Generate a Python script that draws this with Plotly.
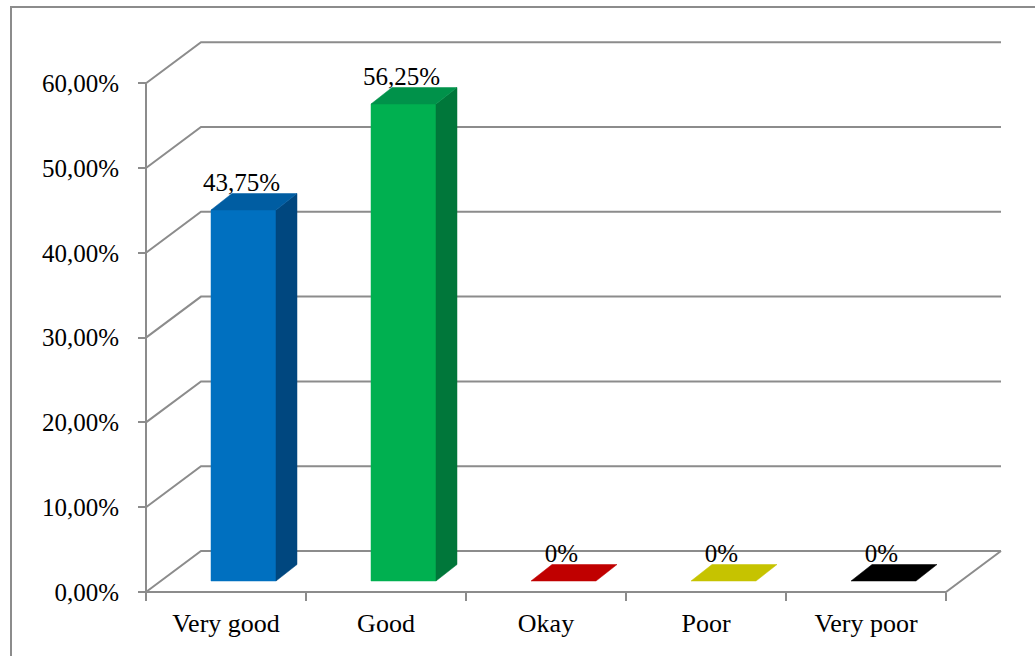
import plotly.graph_objects as go

# ---- data ----
categories = ["Very good", "Good", "Okay", "Poor", "Very poor"]
values = [43.75, 56.25, 0, 0, 0]
value_labels = ["43,75%", "56,25%", "0%", "0%", "0%"]
y_ticks = [0, 10, 20, 30, 40, 50, 60]
y_tick_labels = ["0,00%", "10,00%", "20,00%", "30,00%", "40,00%", "50,00%", "60,00%"]
front_colors = ["#0070C0", "#00B050", "#C00000", "#C6C300", "#000000"]
top_colors = ["#005DA2", "#00924A", "#C00000", "#C6C300", "#000000"]
side_colors = ["#00477F", "#00773A", "#900000", "#959300", "#000000"]

# ---- geometry (pixel scale of the pseudo-3D projection) ----
W, H = 1035, 656
PX_X = 160.0      # px per category
PX_Y = 8.48       # px per percent
AX_LEFT_PX, AX_BOTTOM_PX = 146, 592
L, R, T, B = 140, 30, 37, 59
x_lo = -0.5 - (AX_LEFT_PX - L) / PX_X
x_hi = -0.5 + (W - R - AX_LEFT_PX) / PX_X
y_lo = -((H - B) - AX_BOTTOM_PX) / PX_Y
y_hi = (AX_BOTTOM_PX - T) / PX_Y

wall_dx, wall_dy = 55 / PX_X, 41 / PX_Y
bar_fdx, bar_fdy = 17.5 / PX_X, 11 / PX_Y
bar_half = 32.5 / PX_X
bar_ddx, bar_ddy = 21 / PX_X, 16.5 / PX_Y
n = len(categories)
GRID = "#8C8C8C"

fig = go.Figure()

# back wall gridlines + side wall diagonals
gx, gy = [], []
for v in y_ticks:
    gx += [-0.5, -0.5 + wall_dx, n - 0.5 + wall_dx, None]
    gy += [v, v + wall_dy, v + wall_dy, None]
# front floor edge + right diagonal
gx += [-0.5, n - 0.5, n - 0.5 + wall_dx, None]
gy += [0, 0, wall_dy, None]
# front vertical axis
gx += [-0.5, -0.5, None]
gy += [0, y_ticks[-1], None]
fig.add_trace(go.Scatter(x=gx, y=gy, mode="lines", line=dict(color=GRID, width=2),
                         hoverinfo="skip"))

# bars
for i, v in enumerate(values):
    x0 = i + bar_fdx - bar_half
    x1 = i + bar_fdx + bar_half
    yb = bar_fdy
    yt = bar_fdy + v
    if v > 0:
        fig.add_trace(go.Scatter(x=[x0, x1, x1, x0, x0], y=[yb, yb, yt, yt, yb],
                                 fill="toself", fillcolor=front_colors[i], mode="lines",
                                 line=dict(color=front_colors[i], width=0.5), hoverinfo="skip"))
        fig.add_trace(go.Scatter(x=[x1, x1 + bar_ddx, x1 + bar_ddx, x1, x1],
                                 y=[yb, yb + bar_ddy, yt + bar_ddy, yt, yb],
                                 fill="toself", fillcolor=side_colors[i], mode="lines",
                                 line=dict(color=side_colors[i], width=0.5), hoverinfo="skip"))
    fig.add_trace(go.Scatter(x=[x0, x1, x1 + bar_ddx, x0 + bar_ddx, x0],
                             y=[yt, yt, yt + bar_ddy, yt + bar_ddy, yt],
                             fill="toself", fillcolor=top_colors[i], mode="lines",
                             line=dict(color=top_colors[i], width=0.5), hoverinfo="skip"))

# value labels
fig.add_trace(go.Scatter(
    x=[i + bar_fdx - 2 / PX_X for i in range(n)],
    y=[v + bar_fdy + bar_ddy - 4 / PX_Y for v in values],
    mode="text", text=value_labels, textposition="top center",
    textfont=dict(family="Liberation Serif", size=25, color="black"),
    cliponaxis=False, hoverinfo="skip"))

plot_w = W - L - R
plot_h = H - T - B
fig.update_layout(
    width=W, height=H,
    margin=dict(l=L, r=R, t=T, b=B, pad=0),
    paper_bgcolor="white", plot_bgcolor="white",
    showlegend=False,
    font=dict(family="Liberation Serif", size=25, color="black"),
    xaxis=dict(range=[x_lo, x_hi], showgrid=False, zeroline=False, showline=False,
               tickvals=list(range(n)), ticktext=categories, ticks="",
               anchor="free", position=((H - B) - AX_BOTTOM_PX) / plot_h,
               minor=dict(tick0=-0.5, dtick=1, ticks="outside", ticklen=8,
                          tickwidth=2, tickcolor=GRID, showgrid=False),
               ticklabelstandoff=13,
               tickfont=dict(family="Liberation Serif", size=26, color="black")),
    yaxis=dict(range=[y_lo, y_hi], showgrid=False, zeroline=False, showline=False,
               tickvals=y_ticks, ticktext=y_tick_labels, ticks="outside", ticklen=8,
               tickwidth=2, tickcolor=GRID,
               anchor="free", position=(AX_LEFT_PX - L) / plot_w,
               ticklabelstandoff=14,
               tickfont=dict(family="Liberation Serif", size=25, color="black")),
)

# outer chart border
fig.add_shape(type="rect", xref="paper", yref="paper",
              x0=(11 - L) / plot_w, x1=(W + 20 - L) / plot_w,
              y0=-(H + 20 - (H - B)) / plot_h, y1=((H - B) - 7) / plot_h,
              line=dict(color="#8C8C8C", width=2), fillcolor="rgba(0,0,0,0)", layer="below")

fig.write_html("out.html")
